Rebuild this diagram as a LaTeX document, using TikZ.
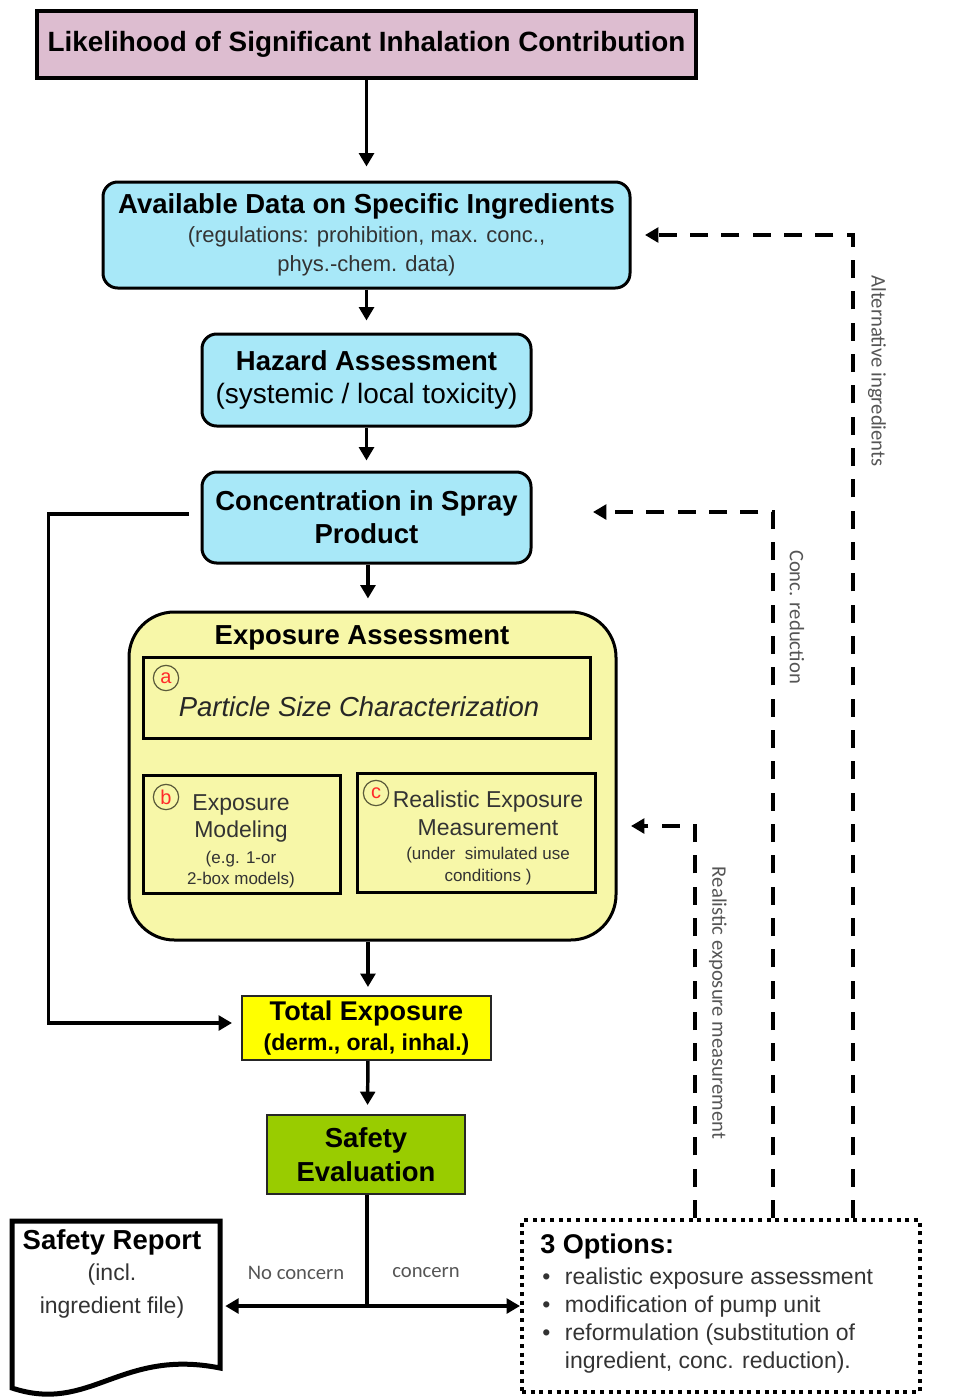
\documentclass[tikz,border=0pt]{standalone}
\usepackage{fontspec}
\setmainfont{Liberation Sans}
\newfontfamily\calibrifont{Carlito}
\usetikzlibrary{arrows.meta,calc}
\definecolor{pinkfill}{HTML}{DDBDD0}
\definecolor{cyanfill}{HTML}{A8E8F8}
\definecolor{expofill}{HTML}{F7F7A8}
\definecolor{totalfill}{HTML}{FFFF00}
\definecolor{safefill}{HTML}{99CC00}
\definecolor{txtgray}{HTML}{333333}
\definecolor{lblgray}{HTML}{555555}
\definecolor{circred}{HTML}{FF2A2A}
\definecolor{circline}{HTML}{5A5A3A}
\begin{document}
\begin{tikzpicture}[x=0.75pt,y=-0.75pt,
  arr/.style={line width=2.6pt,-{Triangle[length=10pt,width=11pt]}},
  plainline/.style={line width=2.6pt},
  darr/.style={line width=3pt,dash pattern=on 13.5pt off 10pt,-{Triangle[length=10pt,width=11pt]}},
  titlebox/.style={draw,line width=3pt,fill=pinkfill,inner sep=0pt,align=center},
  cyanbox/.style={draw,line width=2.25pt,fill=cyanfill,rounded corners=11pt,inner sep=0pt,align=center},
  expobox/.style={draw,line width=2.25pt,fill=expofill,rounded corners=34pt,inner sep=0pt},
  innerbox/.style={draw,line width=2.25pt,inner sep=0pt},
  flatbox/.style={draw=black!85,line width=1.5pt,inner sep=0pt,align=center},
  circlbl/.style={circle,draw=circline,line width=0.9pt,minimum size=19pt,inner sep=0pt,text=circred,font=\fontsize{15pt}{15pt}\selectfont},
  sidelbl/.style={text=lblgray,font=\calibrifont\fontsize{15.5pt}{15.5pt}\selectfont,inner sep=0pt},
  txt/.style={inner sep=0pt,align=center}
]
\useasboundingbox (0,0) rectangle (956,1400);

% title
\node[titlebox,minimum width=494.25pt,minimum height=50.25pt,
  font=\fontsize{20.9pt}{24pt}\selectfont\bfseries] (title) at (366.5,44.5)
  {Likelihood of Significant Inhalation Contribution};

% available data
\node[cyanbox,minimum width=395.25pt,minimum height=79.5pt,
  font=\fontsize{16.5pt}{21.75pt}\selectfont] (avail) at (366.5,235)
  {{\fontsize{20.6pt}{21.75pt}\selectfont\bfseries Available Data on Specific Ingredients}\\
   \textcolor{txtgray}{(regulations: prohibition, max. conc.,}\\
   \textcolor{txtgray}{phys.-chem. data)}};

% hazard
\node[cyanbox,minimum width=246.75pt,minimum height=69pt,
  font=\fontsize{21pt}{24.75pt}\selectfont] (hazard) at (366.5,380)
  {{\fontsize{20.6pt}{24.75pt}\selectfont\bfseries Hazard Assessment}\\(systemic / local toxicity)};

% concentration
\node[cyanbox,minimum width=246.75pt,minimum height=68.25pt,
  font=\fontsize{20.6pt}{24.75pt}\selectfont\bfseries] (conc) at (366.5,517.5)
  {Concentration in Spray\\Product};

% exposure assessment
\node[expobox,minimum width=365.25pt,minimum height=246pt] (expo) at (372.5,776) {};
\node[txt,font=\fontsize{20.6pt}{24pt}\selectfont\bfseries] (expotitle) at (362,638) {Exposure Assessment};
\node[innerbox,minimum width=335.25pt,minimum height=60.75pt] (boxa) at (366.5,697.5) {};
\node[innerbox,minimum width=147.75pt,minimum height=88.5pt] (boxb) at (241.5,834) {};
\node[innerbox,minimum width=178.5pt,minimum height=89.25pt] (boxc) at (476,832.5) {};
\node[circlbl] (ca) at (166,678) {a};
\node[circlbl] (cb) at (166,797) {b};
\node[circlbl] (cc) at (376,793) {c};
\node[txt,text=black!85,font=\fontsize{20.6pt}{22pt}\selectfont\itshape] (atext) at (359,707)
  {Particle Size Characterization};
\node[txt,text=txtgray,font=\fontsize{12.75pt}{19.5pt}\selectfont] (btext) at (241,841)
  {{\fontsize{17.25pt}{19.5pt}\selectfont Exposure}\\[0.75pt]
   {\fontsize{17.25pt}{19.5pt}\selectfont Modeling}\\
   (e.g. 1-or\\[-3.75pt]2-box models)};
\node[txt,text=txtgray,font=\fontsize{12.75pt}{18pt}\selectfont] (ctext) at (488,838)
  {{\fontsize{17.25pt}{18pt}\selectfont Realistic Exposure}\\[3pt]
   {\fontsize{17.25pt}{18pt}\selectfont Measurement}\\
   (under\ \ simulated use\\[-1.5pt]conditions\ )};

% total exposure
\node[flatbox,fill=totalfill,minimum width=186.75pt,minimum height=48pt,
  font=\fontsize{17.25pt}{23pt}\selectfont\bfseries] (total) at (366.5,1028)
  {{\fontsize{20.3pt}{23pt}\selectfont Total Exposure}\\(derm., oral, inhal.)};

% safety evaluation
\node[flatbox,fill=safefill,minimum width=148.5pt,minimum height=59.25pt,
  font=\fontsize{20.6pt}{25.5pt}\selectfont\bfseries] (safety) at (366,1154.5)
  {Safety\\Evaluation};

% safety report (document shape)
\draw[line width=3.75pt,fill=white,line join=miter]
  (12,1221) -- (220,1221) -- (220,1368)
  .. controls (120,1348) and (90,1414) .. (12,1388) -- cycle;
\node[minimum width=156pt,minimum height=1pt,inner sep=0pt] (report) at (116,1306) {};
\node[txt,text=txtgray,font=\fontsize{17.25pt}{24pt}\selectfont] (reporttext) at (112,1274)
  {{\color{black}\fontsize{20.6pt}{24pt}\selectfont\bfseries Safety Report}\\[-0.75pt]
   (incl.\\[0.75pt]ingredient file)};

% options
\node[draw,line width=3pt,dash pattern=on 3pt off 3.5pt,minimum width=298.5pt,minimum height=129pt,inner sep=0pt] (optbox) at (721,1306) {};
\node[inner sep=0pt,anchor=north west,align=left,text=txtgray,
  font=\fontsize{17.25pt}{21pt}\selectfont] (opttext) at (540,1234)
  {{\color{black}\fontsize{20.3pt}{21pt}\selectfont\bfseries 3 Options:}\\[2.25pt]
   \makebox[18.5pt][l]{\hspace{1.5pt}•}realistic exposure assessment\\
   \makebox[18.5pt][l]{\hspace{1.5pt}•}modification of pump unit\\
   \makebox[18.5pt][l]{\hspace{1.5pt}•}reformulation (substitution of\\
   \hspace{18.5pt}ingredient, conc. reduction).};

% main flow arrows
\draw[arr,shorten >=10.5pt] (title.south) -- (avail.north);
\draw[arr,shorten >=9pt] (avail.south) -- (hazard.north);
\draw[arr,shorten >=7.5pt] (hazard.south) -- (conc.north);
\draw[arr,shorten >=9pt] ([xshift=1.1pt]conc.south) -- ([xshift=1.1pt]conc.south |- expo.north);
\draw[arr,shorten >=6pt] ([xshift=1.1pt]expo.south -| total.north) -- ([xshift=1.1pt]total.north);
\draw[arr,shorten >=6.75pt] ([xshift=1.1pt]total.south) -- ([xshift=1.1pt]safety.north);

% bypass line
\draw[arr,shorten >=6.75pt] ([xshift=-9pt,yshift=2.6pt]conc.west) -- ++(-140,0)
  |- ([yshift=3.75pt]total.west);

% branch
\coordinate (br) at (367,1306);
\draw[plainline] (safety.south -| br) -- (br);
\draw[arr,shorten >=3.75pt] (br) -- (report.east);
\draw[arr] (br) -- (optbox.west);
\node[sidelbl] (noconc) at (296,1273) {No concern};
\node[sidelbl] (conclbl) at (426,1273) {concern};

% feedback dashed arrows
\coordinate (altcorner) at (853,235);
\coordinate (altend) at (645,235);
\coordinate (redcorner) at (773,512);
\coordinate (redend) at (593,512);
\coordinate (realcorner) at (695,826);
\coordinate (realend) at (631,826);
\draw[darr] (optbox.north -| altcorner) -- (altcorner) -- (altend);
\draw[darr] (optbox.north -| redcorner) -- (redcorner) -- (redend);
\draw[darr] (optbox.north -| realcorner) -- (realcorner) -- (realend);
\node[sidelbl,rotate=-90] (altlbl) at (877,371) {Alternative ingredients};
\node[sidelbl,rotate=-90] (redlbl) at (797,617) {Conc. reduction};
\node[sidelbl,rotate=-90] (reallbl) at (718,1003) {Realistic exposure measurement};
\end{tikzpicture}
\end{document}
